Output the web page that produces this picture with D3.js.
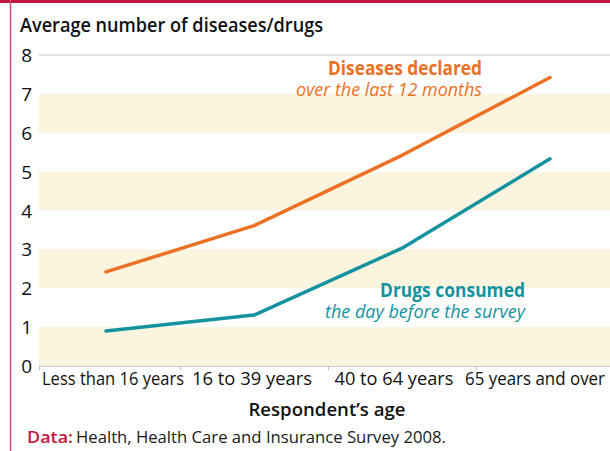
<!DOCTYPE html>
<html>
<head>
<meta charset="utf-8">
<script src="https://cdn.jsdelivr.net/npm/d3@7"></script>
<style>
  body { margin: 0; background: #fff; }
  svg { display: block; font-family: "Open Sans", "Noto Sans", sans-serif; }
</style>
</head>
<body>
<div id="chart"></div>
<script>
// Chart data
const categories = ["Less than 16 years", "16 to 39 years", "40 to 64 years", "65 years and over"];
const diseases = [2.42, 3.61, 5.42, 7.42];
const drugs = [0.9, 1.31, 3.03, 5.33];
const yTicks = [0, 1, 2, 3, 4, 5, 6, 7, 8];
const shadedBands = [[0, 1], [2, 3], [4, 5], [6, 7]];

const width = 610, height = 451;
const orange = "#ec7124", teal = "#14939f", crimson = "#c4173f";

const svg = d3.select("#chart").append("svg")
    .attr("width", width)
    .attr("height", height);

// frame: crimson bar on top, thin line on the left
svg.append("rect").attr("x", 0).attr("y", 0).attr("width", width).attr("height", 3).attr("fill", crimson);
svg.append("line").attr("x1", 10.5).attr("x2", 10.5).attr("y1", 0).attr("y2", height)
    .attr("stroke", "#d8486a").attr("stroke-width", 1.5);

// scales
const plotLeft = 39, plotRight = 610;
const x = d3.scaleBand().domain(categories).range([32, 624]);
const y = d3.scaleLinear().domain([0, 8]).range([366, 55]);
const cx = d => x(d) + x.bandwidth() / 2;

// shaded bands
svg.selectAll(".band")
    .data(shadedBands)
    .enter().append("rect")
    .attr("class", "band")
    .attr("x", plotLeft)
    .attr("width", plotRight - plotLeft)
    .attr("y", d => y(d[1]))
    .attr("height", d => y(d[0]) - y(d[1]))
    .attr("fill", "#fbf5df");

// top grid line
svg.append("line")
    .attr("x1", plotLeft).attr("x2", plotRight)
    .attr("y1", y(8)).attr("y2", y(8))
    .attr("stroke", "#c9c9c9").attr("stroke-width", 1);

// y tick labels
svg.selectAll(".ytick")
    .data(yTicks)
    .enter().append("text")
    .attr("class", "ytick")
    .attr("x", 32)
    .attr("y", d => y(d) + 7)
    .attr("text-anchor", "end")
    .attr("font-size", 19)
    .attr("fill", "#111")
    .text(d => d);

// x axis line and ticks
svg.append("line")
    .attr("x1", plotLeft).attr("x2", plotRight)
    .attr("y1", y(0) + 0.5).attr("y2", y(0) + 0.5)
    .attr("stroke", "#c9c9c9").attr("stroke-width", 1);

const tickXs = [plotLeft].concat(categories.slice(1).map(d => x(d)));
svg.selectAll(".xtick")
    .data(tickXs)
    .enter().append("line")
    .attr("class", "xtick")
    .attr("x1", d => d + 0.5).attr("x2", d => d + 0.5)
    .attr("y1", y(0)).attr("y2", y(0) + 4)
    .attr("stroke", "#bdbdbd");

// x labels
const labelWidths = [142, 120, 119, 140];
svg.selectAll(".xlabel")
    .data(categories)
    .enter().append("text")
    .attr("class", "xlabel")
    .attr("x", (d, i) => cx(d) + [7, -2, -8, -15][i])
    .attr("y", 385)
    .attr("text-anchor", "middle")
    .attr("font-size", 18)
    .attr("fill", "#111")
    .attr("textLength", (d, i) => labelWidths[i])
    .attr("lengthAdjust", "spacingAndGlyphs")
    .text(d => d);

// lines
const line = d3.line()
    .x((d, i) => cx(categories[i]))
    .y(d => y(d));

svg.append("path")
    .datum(diseases)
    .attr("d", line)
    .attr("fill", "none")
    .attr("stroke", orange)
    .attr("stroke-width", 3.5)
    .attr("stroke-linecap", "round")
    .attr("stroke-linejoin", "round");

svg.append("path")
    .datum(drugs)
    .attr("d", line)
    .attr("fill", "none")
    .attr("stroke", teal)
    .attr("stroke-width", 3.5)
    .attr("stroke-linecap", "round")
    .attr("stroke-linejoin", "round");

// series labels
function seriesLabel(right, baseline, color, title, sub, titleW, subW) {
    svg.append("text")
        .attr("x", right).attr("y", baseline)
        .attr("text-anchor", "end")
        .attr("font-size", 19).attr("font-weight", 700)
        .attr("fill", color)
        .attr("textLength", titleW).attr("lengthAdjust", "spacingAndGlyphs")
        .text(title);
    svg.append("text")
        .attr("x", right).attr("y", baseline + 21)
        .attr("text-anchor", "end")
        .attr("font-size", 18).attr("font-style", "italic")
        .attr("fill", color)
        .attr("textLength", subW).attr("lengthAdjust", "spacingAndGlyphs")
        .text(sub);
}
seriesLabel(482, 75, orange, "Diseases declared", "over the last 12 months", 154, 186);
seriesLabel(525, 297, teal, "Drugs consumed", "the day before the survey", 145, 200);

// title
svg.append("text")
    .attr("x", 20).attr("y", 32)
    .attr("font-size", 19).attr("font-weight", 600)
    .attr("fill", "#111")
    .attr("textLength", 303).attr("lengthAdjust", "spacingAndGlyphs")
    .text("Average number of diseases/drugs");

// x axis title
svg.append("text")
    .attr("x", 327).attr("y", 416)
    .attr("text-anchor", "middle")
    .attr("font-size", 18).attr("font-weight", 600)
    .attr("fill", "#111")
    .attr("textLength", 157).attr("lengthAdjust", "spacingAndGlyphs")
    .text("Respondent’s age");

// source
const src = svg.append("text")
    .attr("x", 27).attr("y", 443)
    .attr("font-size", 17)
    .attr("fill", "#1a1a1a");
src.append("tspan").attr("fill", crimson).attr("font-weight", 600)
    .attr("textLength", 46).attr("lengthAdjust", "spacingAndGlyphs")
    .text("Data:");
src.append("tspan").attr("dx", 3)
    .attr("textLength", 370).attr("lengthAdjust", "spacingAndGlyphs")
    .text("Health, Health Care and Insurance Survey 2008.");
</script>
</body>
</html>
